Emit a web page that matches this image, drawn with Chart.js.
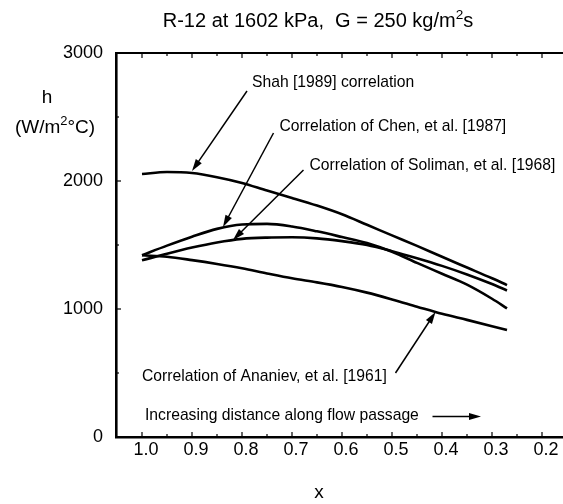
<!DOCTYPE html>
<html>
<head>
<meta charset="utf-8">
<script src="https://cdn.jsdelivr.net/npm/chart.js@4.4.1/dist/chart.umd.min.js"></script>
<style>
  html, body { margin: 0; padding: 0; background: #fff; overflow: hidden; }
  #wrap { width: 570px; height: 504px; }
</style>
</head>
<body>
<div id="wrap"><canvas id="chart" width="570" height="504"></canvas></div>
<script>
/* vapour quality x (axis runs from 1.0 down to 0.2) */
const quality   = [1.0, 0.95, 0.9, 0.85, 0.8, 0.75, 0.7, 0.65, 0.6, 0.55, 0.5, 0.45, 0.4, 0.35, 0.3, 0.27];

/* heat transfer coefficient h, W/m2 C */
const hShah     = [2055, 2070, 2062, 2030, 1985, 1925, 1868, 1808, 1740, 1658, 1575, 1493, 1408, 1324, 1240, 1187];
const hChen     = [1420, 1495, 1565, 1626, 1660, 1665, 1645, 1607, 1562, 1515, 1447, 1360, 1275, 1190, 1080, 1005];
const hSoliman  = [1380, 1432, 1480, 1520, 1548, 1558, 1560, 1552, 1530, 1500, 1452, 1397, 1337, 1270, 1195, 1145];
const hAnaniev  = [1420, 1408, 1382, 1352, 1318, 1278, 1240, 1208, 1172, 1128, 1075, 1018, 962, 915, 866, 836];

const xTicks = [1.0, 0.95, 0.9, 0.85, 0.8, 0.75, 0.7, 0.65, 0.6, 0.55, 0.5, 0.45, 0.4, 0.35, 0.3, 0.25, 0.2];
const yTicks = [0, 500, 1000, 1500, 2000, 2500, 3000];

/* labels with arrows: text anchor, arrow tail, arrow tip (data units) */
const noteText = [
    "Shah [1989] correlation",
    "Correlation of Chen, et al. [1987]",
    "Correlation of Soliman, et al. [1968]",
    "Correlation of Ananiev, et al. [1961]",
    "Increasing distance along flow passage"
];
const noteAt    = [[0.780, 2765], [0.725, 2422], [0.665, 2117], [1.000, 469], [0.994, 170]];
const arrowFrom = [[0.790, 2703], [0.737, 2375], [0.677, 2086], [0.493, 500], [0.419, 160]];
const arrowTo   = [[0.900, 2078], [0.838, 1641], [0.818, 1539], [0.413, 977], [0.322, 160]];

const FONT = "'Liberation Sans', Arial, Helvetica, sans-serif";
Chart.defaults.font.family = FONT;
Chart.defaults.color = "#000";

function pts(ys) {
    return quality.map((x, i) => ({ x: x, y: ys[i] }));
}

function curve(ys) {
    return {
        data: pts(ys),
        borderColor: "#000",
        borderWidth: 2.6,
        pointRadius: 0,
        fill: false,
        tension: 0.4,
        cubicInterpolationMode: "monotone"
    };
}

/* draw text pieces with superscripts */
function drawParts(ctx, parts, x, y, size, align) {
    const sup = size * 0.68;
    let w = 0;
    parts.forEach(p => {
        ctx.font = (p.sup ? sup : size) + "px " + FONT;
        p.w = ctx.measureText(p.t).width;
        w += p.w;
    });
    let cx = align === "center" ? x - w / 2 : x;
    ctx.textBaseline = "alphabetic";
    ctx.textAlign = "left";
    parts.forEach(p => {
        ctx.font = (p.sup ? sup : size) + "px " + FONT;
        ctx.fillText(p.t, cx, p.sup ? y - size * 0.42 : y);
        cx += p.w;
    });
}

function arrow(ctx, x1, y1, x2, y2) {
    const a = Math.atan2(y2 - y1, x2 - x1);
    const len = 12, hw = 3.6;
    ctx.beginPath();
    ctx.moveTo(x1, y1);
    ctx.lineTo(x2 - Math.cos(a) * len * 0.8, y2 - Math.sin(a) * len * 0.8);
    ctx.stroke();
    ctx.beginPath();
    ctx.moveTo(x2, y2);
    ctx.lineTo(x2 - Math.cos(a) * len - Math.sin(a) * hw, y2 - Math.sin(a) * len + Math.cos(a) * hw);
    ctx.lineTo(x2 - Math.cos(a) * len + Math.sin(a) * hw, y2 - Math.sin(a) * len - Math.cos(a) * hw);
    ctx.closePath();
    ctx.fill();
}

const decor = {
    id: "decor",
    afterDraw(chart) {
        const ctx = chart.ctx;
        const xs = chart.scales.x, ys = chart.scales.y;
        const area = chart.chartArea;
        ctx.save();
        ctx.strokeStyle = "#000";
        ctx.fillStyle = "#000";

        // frame top
        ctx.lineWidth = 2.2;
        ctx.beginPath();
        ctx.moveTo(area.left, area.top);
        ctx.lineTo(area.right + 5, area.top);
        ctx.stroke();

        // inward tick marks
        ctx.lineWidth = 1.2;
        xs.ticks.forEach(t => {
            const px = xs.getPixelForValue(t.value);
            const major = Math.round(t.value * 100) % 10 === 0;
            const len = major ? 5 : 3;
            ctx.beginPath();
            ctx.moveTo(px, area.bottom);
            ctx.lineTo(px, area.bottom - len);
            ctx.moveTo(px, area.top);
            ctx.lineTo(px, area.top + len);
            ctx.stroke();
        });
        ys.ticks.forEach(t => {
            const py = ys.getPixelForValue(t.value);
            const len = t.value % 1000 === 0 ? 5 : 3;
            ctx.beginPath();
            ctx.moveTo(area.left, py);
            ctx.lineTo(area.left + len, py);
            ctx.stroke();
        });

        // titles
        drawParts(ctx, [{ t: "R-12 at 1602 kPa,  G = 250 kg/m" }, { t: "2", sup: true }, { t: "s" }],
            318, 27, 20, "center");
        drawParts(ctx, [{ t: "h" }], 47, 103, 19, "center");
        drawParts(ctx, [{ t: "(W/m" }, { t: "2", sup: true }, { t: "\u00B0C)" }], 55, 133, 19, "center");
        drawParts(ctx, [{ t: "x" }], 319, 498, 19, "center");

        // notes and arrows
        ctx.font = "15.7px " + FONT;
        ctx.textAlign = "left";
        ctx.textBaseline = "middle";
        noteText.forEach((s, i) => {
            ctx.fillText(s, xs.getPixelForValue(noteAt[i][0]), ys.getPixelForValue(noteAt[i][1]));
        });
        ctx.lineWidth = 1.5;
        arrowFrom.forEach((f, i) => {
            arrow(ctx,
                xs.getPixelForValue(f[0]), ys.getPixelForValue(f[1]),
                xs.getPixelForValue(arrowTo[i][0]), ys.getPixelForValue(arrowTo[i][1]));
        });
        ctx.restore();
    }
};

new Chart(document.getElementById("chart"), {
    type: "line",
    data: {
        datasets: [curve(hShah), curve(hChen), curve(hSoliman), curve(hAnaniev)]
    },
    options: {
        responsive: false,
        animation: false,
        devicePixelRatio: 1,
        layout: { padding: { top: 53, left: 0, right: 3, bottom: 0 } },
        plugins: { legend: { display: false }, tooltip: { enabled: false } },
        scales: {
            x: {
                type: "linear",
                reverse: true,
                min: 0.15,
                max: 1.052,
                grid: { display: false, drawTicks: false, tickLength: 0 },
                border: { display: true, color: "#000", width: 2.6 },
                afterFit: s => { s.height = 504 - 437; },
                afterBuildTicks: s => { s.ticks = xTicks.map(v => ({ value: v })); },
                ticks: {
                    autoSkip: false,
                    maxRotation: 0,
                    padding: 2,
                    labelOffset: 4,
                    font: { size: 18 },
                    callback: v => (Math.round(v * 100) % 10 === 0 ? v.toFixed(1) : "")
                }
            },
            y: {
                min: 0,
                max: 3000,
                grid: { display: false, drawTicks: false, tickLength: 0 },
                border: { display: true, color: "#000", width: 2.6 },
                afterFit: s => { s.width = 116; },
                afterBuildTicks: s => { s.ticks = yTicks.map(v => ({ value: v })); },
                ticks: {
                    autoSkip: false,
                    padding: 13,
                    font: { size: 18 },
                    callback: v => (v % 1000 === 0 ? String(v) : "")
                }
            }
        }
    },
    plugins: [decor]
});
</script>
</body>
</html>
